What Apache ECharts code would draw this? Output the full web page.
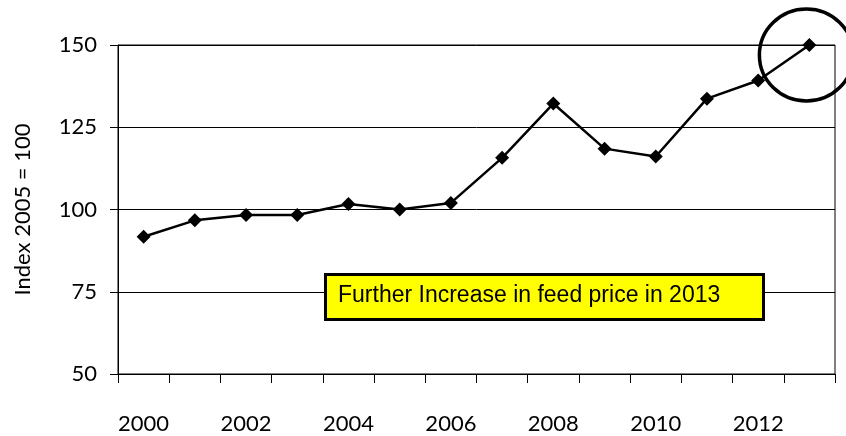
<!DOCTYPE html>
<html>
<head>
<meta charset="utf-8">
<script src="https://cdn.jsdelivr.net/npm/echarts@6/dist/echarts.min.js"></script>
<style>
  html, body { margin: 0; padding: 0; background: #fff; }
  #chart { width: 846px; height: 436px; }
</style>
</head>
<body>
<div id="chart"></div>
<script>
// data
const years = ['2000', '2001', '2002', '2003', '2004', '2005', '2006',
  '2007', '2008', '2009', '2010', '2011', '2012', '2013'];
const feedIndex = [91.7, 96.7, 98.3, 98.3, 101.7, 100, 102,
  115.7, 132.2, 118.5, 116.1, 133.7, 139.2, 150];
const yTicks = [50, 75, 100, 125, 150];
const note = 'Further Increase in feed price in 2013';

const axisFont = 'Lato, "DejaVu Sans", sans-serif';
const myChart = echarts.init(document.getElementById('chart'));

const option = {
  animation: false,
  grid: {
    left: 118,
    right: 11,
    top: 45,
    bottom: 62,
    show: true,
    borderColor: '#000',
    borderWidth: 1
  },
  xAxis: {
    type: 'category',
    data: years,
    boundaryGap: true,
    axisLine: { lineStyle: { color: '#000', width: 1 } },
    axisTick: {
      show: true,
      interval: 0,
      inside: false,
      length: 9,
      lineStyle: { color: '#000', width: 1 }
    },
    axisLabel: {
      interval: 1,
      margin: 39,
      color: '#000',
      fontFamily: axisFont,
      fontSize: 22
    },
    splitLine: { show: false }
  },
  yAxis: {
    type: 'value',
    min: yTicks[0],
    max: yTicks[yTicks.length - 1],
    interval: 25,
    name: 'Index 2005 = 100',
    nameLocation: 'middle',
    nameGap: 84,
    nameTextStyle: {
      color: '#000',
      fontFamily: axisFont,
      fontSize: 22
    },
    axisLine: { show: true, lineStyle: { color: '#000', width: 1 } },
    axisTick: { show: true, length: 8, lineStyle: { color: '#000', width: 1 } },
    axisLabel: {
      margin: 21,
      color: '#000',
      fontFamily: axisFont,
      fontSize: 22
    },
    splitLine: { lineStyle: { color: '#000', width: 1 } }
  },
  series: [
    {
      type: 'line',
      data: feedIndex,
      symbol: 'diamond',
      symbolSize: 14,
      showAllSymbol: true,
      lineStyle: { color: '#000', width: 2.5 },
      itemStyle: { color: '#000' },
      z: 3
    }
  ]
};
myChart.setOption(option);

// annotation box and circle round the 2013 point
const last = myChart.convertToPixel({ seriesIndex: 0 }, [years.length - 1, feedIndex[feedIndex.length - 1]]);
myChart.setOption({
  graphic: [
    {
      type: 'rect',
      left: 324,
      top: 273,
      shape: { width: 438, height: 45 },
      style: { fill: '#ffff00', stroke: '#000', lineWidth: 3 },
      z: 10
    },
    {
      type: 'text',
      x: 338,
      y: 296,
      style: {
        text: note,
        fill: '#000',
        verticalAlign: 'middle',
        font: '23px "Liberation Sans", Arial, sans-serif'
      },
      z: 11
    },
    {
      type: 'ellipse',
      shape: { cx: last[0] - 3, cy: last[1] + 10, rx: 47, ry: 46 },
      style: { fill: 'none', stroke: '#000', lineWidth: 3.5 },
      z: 12
    }
  ]
});
</script>
</body>
</html>
